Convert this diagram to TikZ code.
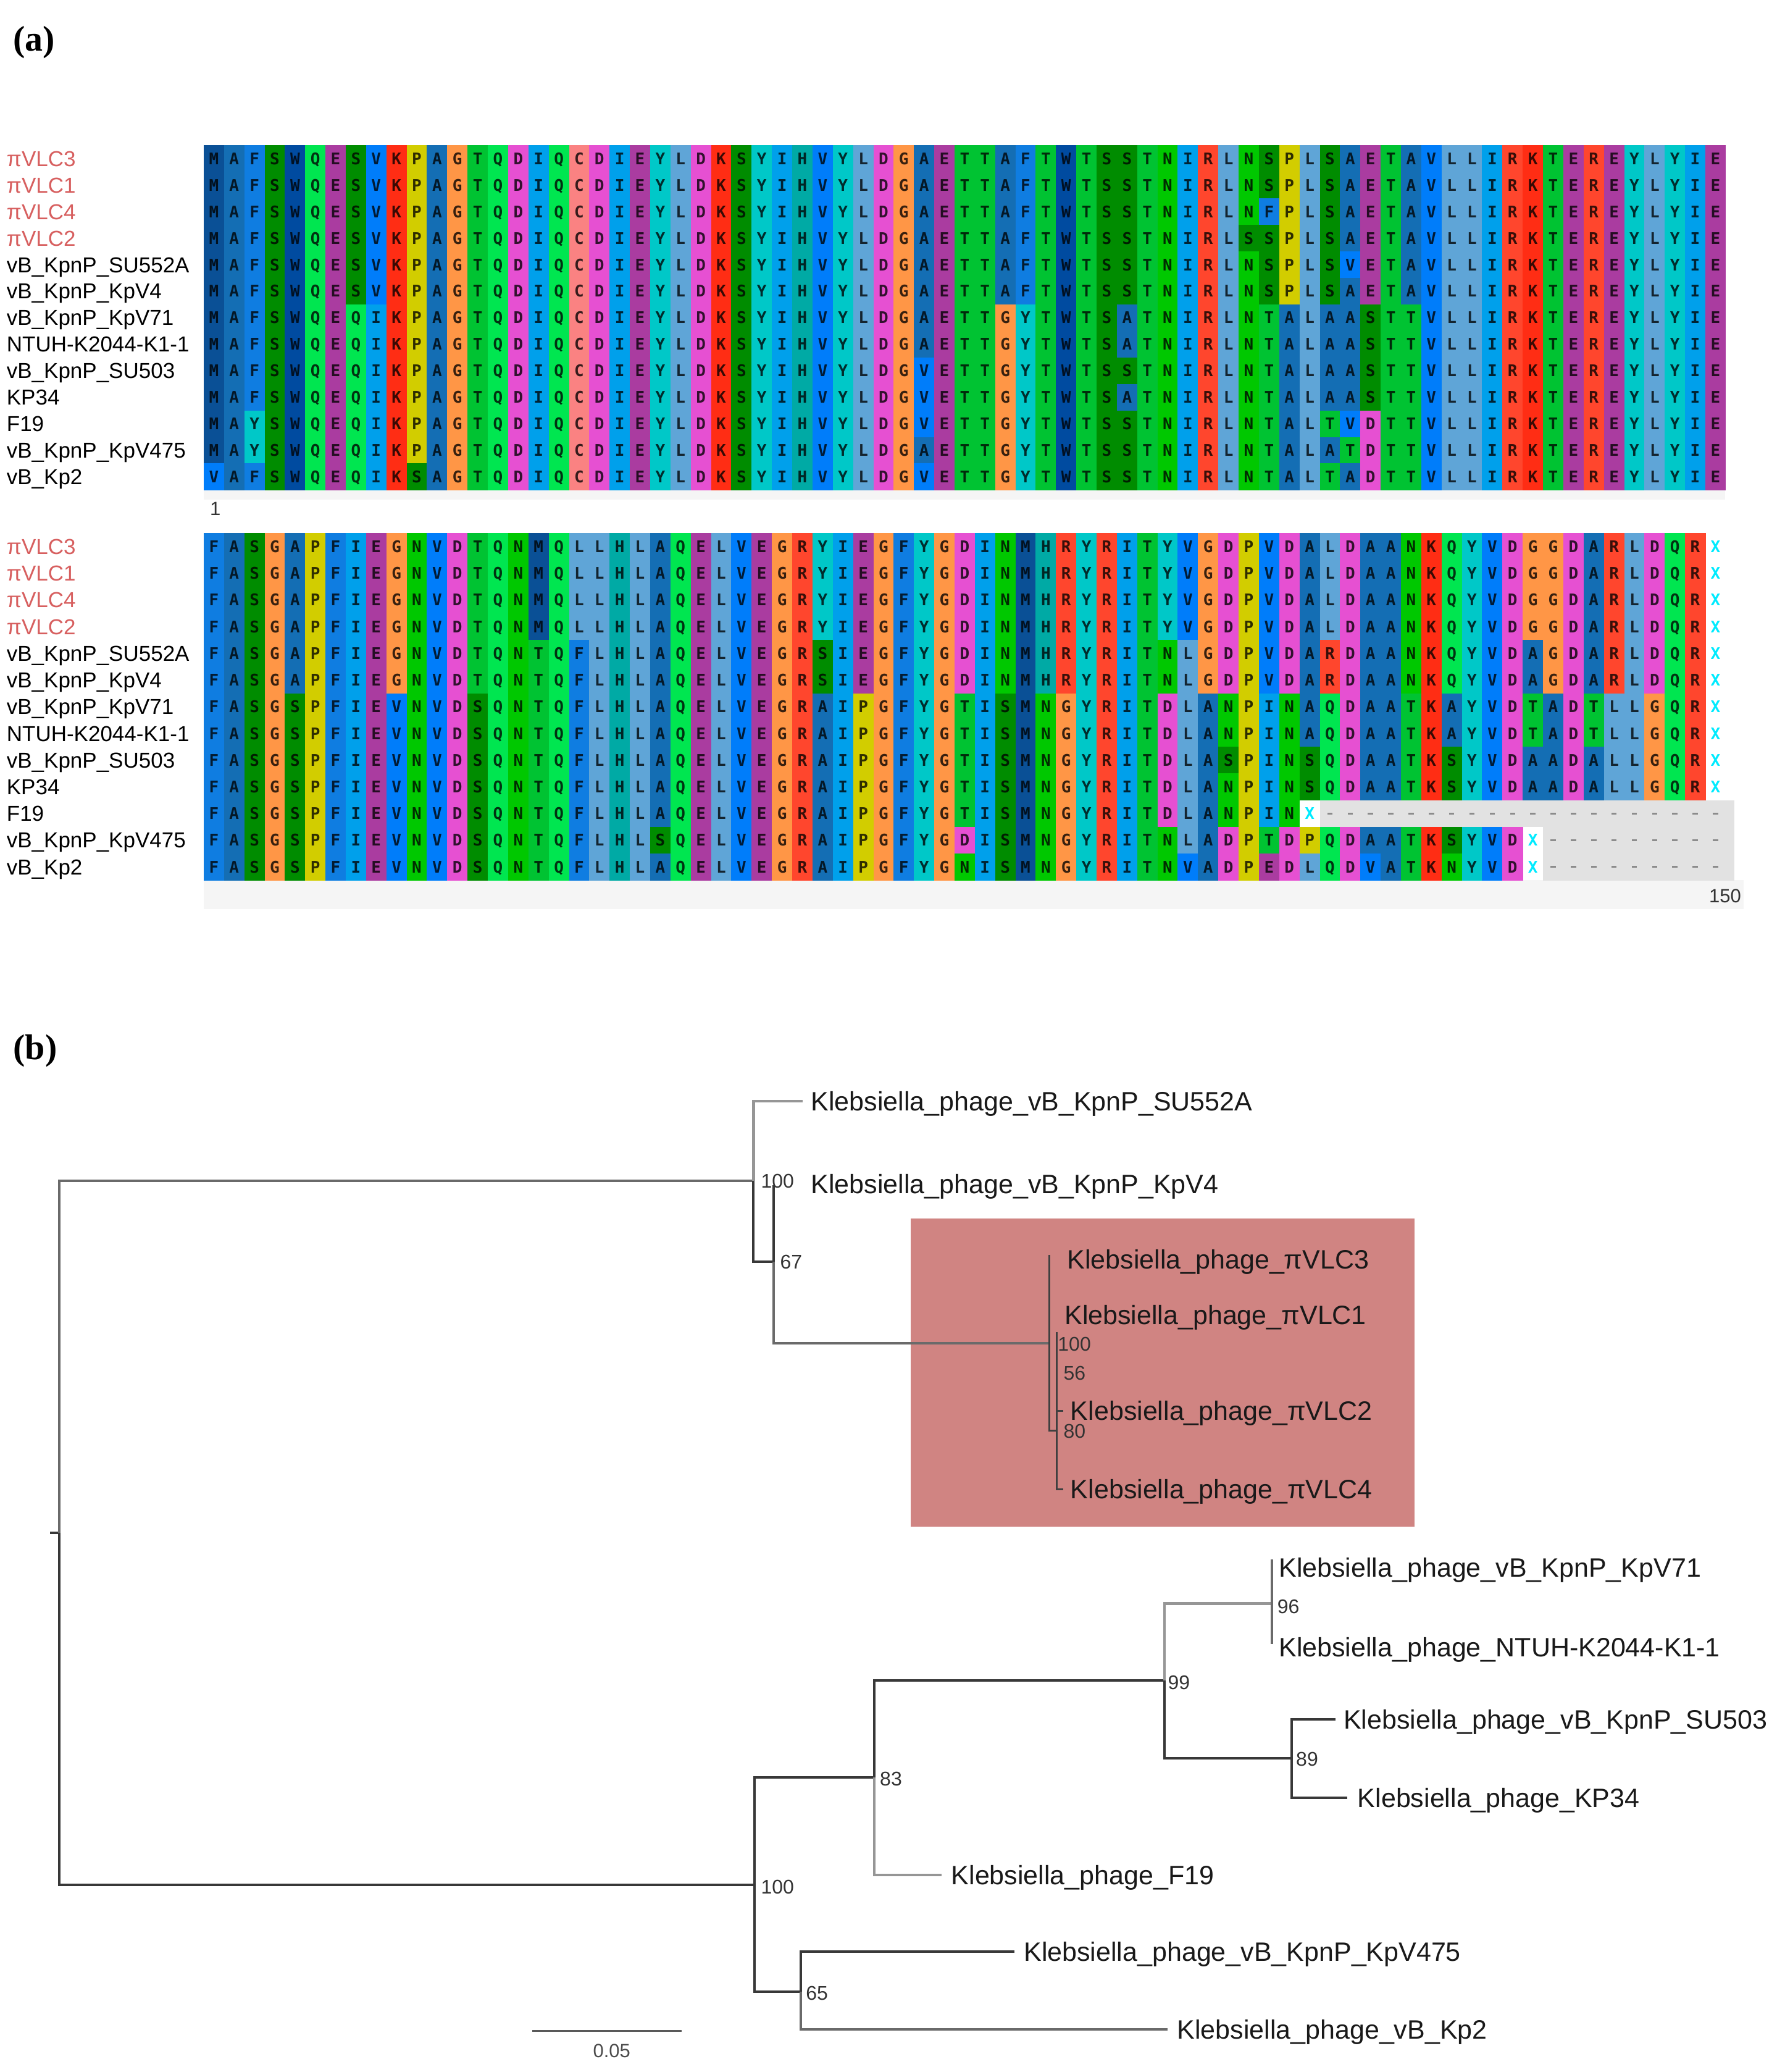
\documentclass[tikz,border=0pt]{standalone}
\usepackage{fontspec}
\setmainfont{Liberation Sans}
\newfontfamily\resfont{DejaVu Sans Mono}
\newfontfamily\lblserif{Liberation Serif}
\definecolor{resM}{RGB}{10,80,150}
\definecolor{resW}{RGB}{0,75,160}
\definecolor{resA}{RGB}{20,110,180}
\definecolor{resF}{RGB}{15,125,225}
\definecolor{resV}{RGB}{0,125,250}
\definecolor{resI}{RGB}{0,160,235}
\definecolor{resL}{RGB}{95,165,215}
\definecolor{resS}{RGB}{0,140,0}
\definecolor{resN}{RGB}{0,200,0}
\definecolor{resT}{RGB}{0,195,50}
\definecolor{resQ}{RGB}{0,230,80}
\definecolor{resY}{RGB}{0,200,200}
\definecolor{resH}{RGB}{0,170,165}
\definecolor{resE}{RGB}{170,60,160}
\definecolor{resD}{RGB}{230,80,210}
\definecolor{resK}{RGB}{255,45,20}
\definecolor{resR}{RGB}{255,70,45}
\definecolor{resP}{RGB}{210,205,0}
\definecolor{resG}{RGB}{255,150,70}
\definecolor{resC}{RGB}{250,130,130}
\definecolor{gapbgc}{RGB}{226,226,226}
\definecolor{vlcred}{RGB}{215,95,95}
\definecolor{boxpink}{RGB}{208,132,130}
\definecolor{brdarkc}{RGB}{56,56,56}
\definecolor{brmidc}{RGB}{106,106,106}
\definecolor{brlightc}{RGB}{150,150,150}
\definecolor{xcyan}{RGB}{0,235,255}

\makeatletter
\newcount\sr@col
\def\seqrow#1#2#3#4{\def\sr@id{#1}\pgfmathsetmacro\sr@y{#2}\def\sr@h{#3}\global\sr@col=0\relax\expandafter\sr@next#4\@nil}
\def\sr@next#1{\ifx#1\@nil\expandafter\@gobble\else\expandafter\@firstofone\fi{\sr@cell#1\sr@next}}
\def\sr@cell#1{%
  \global\advance\sr@col by 1\relax
  \pgfmathsetmacro\sr@xl{154.2+15.36*(\the\sr@col-1)}%
  \pgfmathsetmacro\sr@xc{\sr@xl+7.68}%
  \pgfmathsetmacro\sr@yc{\sr@y+\sr@h/2}%
  \ifx#1-\expandafter\@firstoftwo\else\expandafter\@secondoftwo\fi
   {\sr@gap}{\ifx#1X\expandafter\@firstoftwo\else\expandafter\@secondoftwo\fi{\sr@stop}{\sr@res#1}}}
\def\sr@res#1{%
  \fill[res#1] (\sr@xl,\sr@y) rectangle ++(15.6,\sr@h+0.25);
  \node[restxt] (\sr@id c\the\sr@col) at (\sr@xc,\sr@yc) {#1};}
\def\sr@gap{%
  \fill[gapbg] (\sr@xl,\sr@y) rectangle ++(15.6,\sr@h+0.25);
  \fill[gapdash] (\sr@xc-2,\sr@yc-0.7) rectangle (\sr@xc+2,\sr@yc+0.7);}
\def\sr@stop{\node[xtxt] (\sr@id c\the\sr@col) at (\sr@xc,\sr@yc) {X};}
\makeatother

\tikzset{
  restxt/.style={inner sep=0pt, text=black, text opacity=0.78, font={\resfont\bfseries\fontsize{26}{26}\selectfont}, text height=19pt, text depth=0pt},
  xtxt/.style={inner sep=0pt, text=xcyan, font={\resfont\bfseries\fontsize{26}{26}\selectfont}, text height=19pt, text depth=0pt},
  gapbg/.style={fill=gapbgc},
  gapdash/.style={fill=black!45},
  seqname/.style={anchor=west, inner sep=0pt, font=\fontsize{35}{35}\selectfont, text height=25pt, text depth=0pt},
  leaflbl/.style={anchor=west, inner sep=0pt, text=black!90, font=\fontsize{43}{43}\selectfont, text height=31pt, text depth=0pt},
  bootlbl/.style={anchor=west, inner sep=0pt, text=black!80, font=\fontsize{32}{32}\selectfont, text height=23pt, text depth=0pt},
  panellbl/.style={anchor=west, inner sep=0pt, font={\lblserif\bfseries\fontsize{58}{58}\selectfont}},
  poslbl/.style={inner sep=0pt, text=black!80, font=\fontsize{31}{31}\selectfont, text height=22pt, text depth=0pt},
  brdark/.style={draw=brdarkc, line width=4pt},
  brmid/.style={draw=brmidc, line width=4pt},
  brlight/.style={draw=brlightc, line width=4.5pt},
  brvlc/.style={draw=black!75, line width=3pt},
}

\begin{document}
\begin{tikzpicture}[x=2.14pt,y=-2.14pt]
\useasboundingbox (0,0) rectangle (1351,1568);
\fill[white] (0,0) rectangle (1351,1568);

% panel labels
\node[panellbl] (pa) at (10,32) {(a)};
\node[panellbl] (pb) at (10,795) {(b)};

% ---------------- alignment block 1
\fill[black!4] (154.2,370) rectangle (1306,378);
\foreach \r/\s in {
1/MAFSWQESVKPAGTQDIQCDIEYLDKSYIHVYLDGAETTAFTWTSSTNIRLNSPLSAETAVLLIRKTEREYLYIE,
2/MAFSWQESVKPAGTQDIQCDIEYLDKSYIHVYLDGAETTAFTWTSSTNIRLNSPLSAETAVLLIRKTEREYLYIE,
3/MAFSWQESVKPAGTQDIQCDIEYLDKSYIHVYLDGAETTAFTWTSSTNIRLNFPLSAETAVLLIRKTEREYLYIE,
4/MAFSWQESVKPAGTQDIQCDIEYLDKSYIHVYLDGAETTAFTWTSSTNIRLSSPLSAETAVLLIRKTEREYLYIE,
5/MAFSWQESVKPAGTQDIQCDIEYLDKSYIHVYLDGAETTAFTWTSSTNIRLNSPLSVETAVLLIRKTEREYLYIE,
6/MAFSWQESVKPAGTQDIQCDIEYLDKSYIHVYLDGAETTAFTWTSSTNIRLNSPLSAETAVLLIRKTEREYLYIE,
7/MAFSWQEQIKPAGTQDIQCDIEYLDKSYIHVYLDGAETTGYTWTSATNIRLNTALAASTTVLLIRKTEREYLYIE,
8/MAFSWQEQIKPAGTQDIQCDIEYLDKSYIHVYLDGAETTGYTWTSATNIRLNTALAASTTVLLIRKTEREYLYIE,
9/MAFSWQEQIKPAGTQDIQCDIEYLDKSYIHVYLDGVETTGYTWTSSTNIRLNTALAASTTVLLIRKTEREYLYIE,
10/MAFSWQEQIKPAGTQDIQCDIEYLDKSYIHVYLDGVETTGYTWTSATNIRLNTALAASTTVLLIRKTEREYLYIE,
11/MAYSWQEQIKPAGTQDIQCDIEYLDKSYIHVYLDGVETTGYTWTSSTNIRLNTALTVDTTVLLIRKTEREYLYIE,
12/MAYSWQEQIKPAGTQDIQCDIEYLDKSYIHVYLDGAETTGYTWTSSTNIRLNTALATDTTVLLIRKTEREYLYIE,
13/VAFSWQEQIKSAGTQDIQCDIEYLDKSYIHVYLDGVETTGYTWTSSTNIRLNTALTADTTVLLIRKTEREYLYIE}
{\seqrow{a\r}{110+(\r-1)*20.06}{20.06}{\s}}

% ---------------- alignment block 2
\fill[black!4] (154.2,666) rectangle (1320,688);
\fill[gapbgc] (1305,605.5) rectangle (1313,666.6);
\foreach \r/\s in {
1/FASGAPFIEGNVDTQNMQLLHLAQELVEGRYIEGFYGDINMHRYRITYVGDPVDALDAANKQYVDGGDARLDQRX,
2/FASGAPFIEGNVDTQNMQLLHLAQELVEGRYIEGFYGDINMHRYRITYVGDPVDALDAANKQYVDGGDARLDQRX,
3/FASGAPFIEGNVDTQNMQLLHLAQELVEGRYIEGFYGDINMHRYRITYVGDPVDALDAANKQYVDGGDARLDQRX,
4/FASGAPFIEGNVDTQNMQLLHLAQELVEGRYIEGFYGDINMHRYRITYVGDPVDALDAANKQYVDGGDARLDQRX,
5/FASGAPFIEGNVDTQNTQFLHLAQELVEGRSIEGFYGDINMHRYRITNLGDPVDARDAANKQYVDAGDARLDQRX,
6/FASGAPFIEGNVDTQNTQFLHLAQELVEGRSIEGFYGDINMHRYRITNLGDPVDARDAANKQYVDAGDARLDQRX,
7/FASGSPFIEVNVDSQNTQFLHLAQELVEGRAIPGFYGTISMNGYRITDLANPINAQDAATKAYVDTADTLLGQRX,
8/FASGSPFIEVNVDSQNTQFLHLAQELVEGRAIPGFYGTISMNGYRITDLANPINAQDAATKAYVDTADTLLGQRX,
9/FASGSPFIEVNVDSQNTQFLHLAQELVEGRAIPGFYGTISMNGYRITDLASPINSQDAATKSYVDAADALLGQRX,
10/FASGSPFIEVNVDSQNTQFLHLAQELVEGRAIPGFYGTISMNGYRITDLANPINSQDAATKSYVDAADALLGQRX,
11/FASGSPFIEVNVDSQNTQFLHLAQELVEGRAIPGFYGTISMNGYRITDLANPINX--------------------,
12/FASGSPFIEVNVDSQNTQFLHLSQELVEGRAIPGFYGDISMNGYRITNLADPTDPQDAATKSYVDX---------,
13/FASGSPFIEVNVDSQNTQFLHLAQELVEGRAIPGFYGNISMNGYRITNVADPEDLQDVATKNYVDX---------}
{\seqrow{b\r}{403.5+(\r-1)*20.2}{20.2}{\s}}

% sequence names
\foreach \bk/\top/\hh in {a/110/20.06, b/403.5/20.2}{
\foreach \r/\n/\cl in {1/πVLC3/vlcred, 2/πVLC1/vlcred, 3/πVLC4/vlcred, 4/πVLC2/vlcred,
  5/vB\_KpnP\_SU552A/black, 6/vB\_KpnP\_KpV4/black, 7/vB\_KpnP\_KpV71/black,
  8/NTUH-K2044-K1-1/black, 9/vB\_KpnP\_SU503/black, 10/KP34/black, 11/F19/black,
  12/vB\_KpnP\_KpV475/black, 13/vB\_Kp2/black}
{\node[seqname, text=\cl] (n\bk\r) at (5,{\top+(\r-0.5)*\hh}) {\n};}
}

\node[poslbl] (pos1) at (163,385) {1};
\node[poslbl, anchor=east] (pos150) at (1318,678) {150};

% ---------------- tree (b)
\fill[boxpink] (689.4,921.9) rectangle (1070.6,1155.2);

\coordinate (rs) at (38,1160);
\coordinate (r0) at (45,1160);
\coordinate (nA) at (570.4,893.8);
\coordinate (tSU552A) at (607.5,833.4);
\coordinate (nB) at (585.6,954.8);
\coordinate (cKpV4) at (585.6,897);
\coordinate (nVLC) at (794.3,1016.4);
\coordinate (cVLC3) at (794.3,949.9);
\coordinate (nD) at (800.1,1082.6);
\coordinate (cVLC1) at (800.1,1008.3);
\coordinate (tVLC2) at (804.7,1067.5);
\coordinate (tVLC4) at (804.7,1126.8);
\coordinate (nL1) at (571,1426.3);
\coordinate (nL2) at (661.8,1345.2);
\coordinate (tF19) at (712.6,1418.8);
\coordinate (nL4) at (881.4,1271.6);
\coordinate (nL5) at (962.6,1213.6);
\coordinate (cKpV71) at (962.6,1180);
\coordinate (cNTUH) at (962.6,1244);
\coordinate (nL6) at (977.6,1330.5);
\coordinate (tSU503) at (1010.9,1301);
\coordinate (tKP34) at (1020,1360.4);
\coordinate (nL3) at (606,1507);
\coordinate (tKpV475) at (768,1477);
\coordinate (tKp2) at (884,1535.6);

\draw[brdark] (rs) -- (r0);
\draw[brmid] (r0) |- (nA);
\draw[brdark] (r0) |- (nL1);
\draw[brlight] (nA) |- (tSU552A);
\draw[brdark] (nA) |- (nB);
\draw[brdark] (nB) -- (cKpV4);
\draw[brmid] (nB) |- (nVLC);
\draw[brvlc] (nVLC) -- (cVLC3);
\draw[brvlc] (nVLC) |- (nD);
\draw[brvlc] (nD) -- (cVLC1);
\draw[brvlc] (nD) |- (tVLC2);
\draw[brvlc] (nD) |- (tVLC4);
\draw[brdark] (nL1) |- (nL2);
\draw[brdark] (nL1) |- (nL3);
\draw[brdark] (nL2) |- (nL4);
\draw[brlight] (nL2) |- (tF19);
\draw[brlight] (nL4) |- (nL5);
\draw[brdark] (nL4) |- (nL6);
\draw[brmid] (nL5) -- (cKpV71);
\draw[brmid] (nL5) -- (cNTUH);
\draw[brdark] (nL6) |- (tSU503);
\draw[brdark] (nL6) |- (tKP34);
\draw[brdark] (nL3) |- (tKpV475);
\draw[brmid] (nL3) |- (tKp2);

% leaf labels
\node[leaflbl] (lSU552A) at (613.9,833.4) {Klebsiella\_phage\_vB\_KpnP\_SU552A};
\node[leaflbl] (lKpV4) at (613.9,896) {Klebsiella\_phage\_vB\_KpnP\_KpV4};
\node[leaflbl] (lVLC3) at (807.8,953) {Klebsiella\_phage\_πVLC3};
\node[leaflbl] (lVLC1) at (805.8,995) {Klebsiella\_phage\_πVLC1};
\node[leaflbl] (lVLC2) at (810.3,1067.5) {Klebsiella\_phage\_πVLC2};
\node[leaflbl] (lVLC4) at (810.3,1126.8) {Klebsiella\_phage\_πVLC4};
\node[leaflbl] (lKpV71) at (968,1186.3) {Klebsiella\_phage\_vB\_KpnP\_KpV71};
\node[leaflbl] (lNTUH) at (968,1246.3) {Klebsiella\_phage\_NTUH-K2044-K1-1};
\node[leaflbl] (lSU503) at (1017,1301) {Klebsiella\_phage\_vB\_KpnP\_SU503};
\node[leaflbl] (lKP34) at (1027.6,1360.4) {Klebsiella\_phage\_KP34};
\node[leaflbl] (lF19) at (720,1418.8) {Klebsiella\_phage\_F19};
\node[leaflbl] (lKpV475) at (775,1477) {Klebsiella\_phage\_vB\_KpnP\_KpV475};
\node[leaflbl] (lKp2) at (891,1535.6) {Klebsiella\_phage\_vB\_Kp2};

% bootstrap values
\node[bootlbl] (bA) at (576,893.8) {100};
\node[bootlbl] (bB) at (590.5,954.8) {67};
\node[bootlbl] (bVLC) at (800.7,1017) {100};
\node[bootlbl] (b56) at (805,1039) {56};
\node[bootlbl] (b80) at (805,1083) {80};
\node[bootlbl] (bL1) at (576,1428) {100};
\node[bootlbl] (bL2) at (666,1346) {83};
\node[bootlbl] (bL4) at (884,1273) {99};
\node[bootlbl] (bL5) at (966.8,1215.7) {96};
\node[bootlbl] (bL6) at (981,1331) {89};
\node[bootlbl] (bL3) at (610,1508) {65};

% scale bar
\coordinate (sbL) at (403,1537);
\coordinate (sbR) at (516,1537);
\draw[draw=black!65, line width=3pt] (sbL) -- (sbR);
\node[poslbl, text=black!70] (sbT) at (463,1552) {0.05};
\end{tikzpicture}
\end{document}
